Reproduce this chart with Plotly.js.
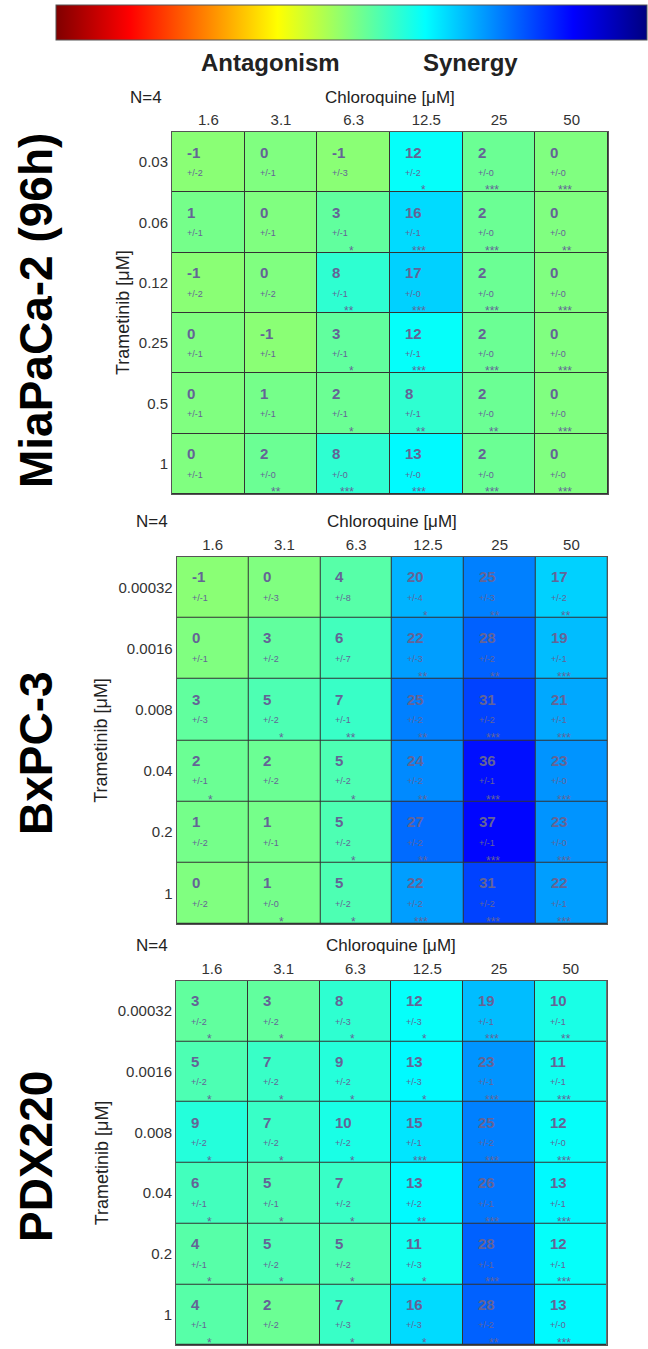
<!DOCTYPE html>
<html>
<head>
<meta charset="utf-8">
<script src="https://cdn.plot.ly/plotly-3.0.1.min.js"></script>
<style>html,body{margin:0;padding:0;background:#fff;}#chart{width:648px;height:1349px;}</style>
</head>
<body>
<div id="chart"></div>
<script>
// ---------- DATA ----------
const chloroLabels = ['1.6', '3.1', '6.3', '12.5', '25', '50'];

const miaLabel = 'MiaPaCa-2 (96h)';
const miaRows = ['0.03', '0.06', '0.12', '0.25', '0.5', '1'];
const miaZ = [
  [-1, 0, -1, 12, 2, 0],
  [1, 0, 3, 16, 2, 0],
  [-1, 0, 8, 17, 2, 0],
  [0, -1, 3, 12, 2, 0],
  [0, 1, 2, 8, 2, 0],
  [0, 2, 8, 13, 2, 0]
];
const miaErr = [
  [2, 1, 3, 2, 0, 0],
  [1, 1, 1, 1, 0, 0],
  [2, 2, 1, 0, 0, 0],
  [1, 1, 1, 1, 0, 0],
  [1, 1, 1, 1, 0, 0],
  [1, 0, 0, 0, 0, 0]
];
const miaSig = [
  ['', '', '', '*', '***', '***'],
  ['', '', '*', '***', '***', '**'],
  ['', '', '**', '***', '***', '***'],
  ['', '', '*', '***', '***', '***'],
  ['', '', '*', '**', '**', '***'],
  ['', '**', '***', '***', '***', '***']
];

const bxLabel = 'BxPC-3';
const bxRows = ['0.00032', '0.0016', '0.008', '0.04', '0.2', '1'];
const bxZ = [
  [-1, 0, 4, 20, 25, 17],
  [0, 3, 6, 22, 28, 19],
  [3, 5, 7, 25, 31, 21],
  [2, 2, 5, 24, 36, 23],
  [1, 1, 5, 27, 37, 23],
  [0, 1, 5, 22, 31, 22]
];
const bxErr = [
  [1, 3, 8, 4, 3, 2],
  [1, 2, 7, 3, 2, 1],
  [3, 2, 1, 2, 2, 1],
  [1, 2, 2, 2, 1, 0],
  [2, 1, 2, 2, 1, 0],
  [2, 0, 2, 2, 2, 1]
];
const bxSig = [
  ['', '', '', '*', '**', '**'],
  ['', '', '', '**', '**', '***'],
  ['', '*', '**', '**', '***', '***'],
  ['*', '', '*', '**', '***', '***'],
  ['', '', '*', '**', '***', '***'],
  ['', '*', '*', '***', '***', '***']
];

const pdxLabel = 'PDX220';
const pdxRows = ['0.00032', '0.0016', '0.008', '0.04', '0.2', '1'];
const pdxZ = [
  [3, 3, 8, 12, 19, 10],
  [5, 7, 9, 13, 23, 11],
  [9, 7, 10, 15, 25, 12],
  [6, 5, 7, 13, 26, 13],
  [4, 5, 5, 11, 28, 12],
  [4, 2, 7, 16, 28, 13]
];
const pdxErr = [
  [2, 2, 3, 3, 1, 1],
  [2, 2, 2, 3, 1, 1],
  [2, 2, 2, 1, 2, 0],
  [1, 1, 2, 2, 1, 1],
  [1, 2, 2, 3, 1, 1],
  [1, 2, 3, 3, 2, 0]
];
const pdxSig = [
  ['*', '*', '*', '*', '***', '**'],
  ['*', '*', '*', '*', '***', '***'],
  ['*', '*', '*', '***', '***', '***'],
  ['*', '*', '*', '**', '***', '***'],
  ['*', '*', '*', '*', '***', '***'],
  ['*', '', '*', '*', '**', '***']
];

const nLabel = 'N=4';
const xTitle = 'Chloroquine [\u03bcM]';
const yTitle = 'Trametinib [\u03bcM]';
const scaleLeft = 'Antagonism';
const scaleRight = 'Synergy';

// ---------- STYLE / LAYOUT ----------
const W = 648, H = 1349;
const FONT = 'Liberation Sans, Arial, Helvetica, sans-serif';
const jetRev = [
  [0, 'rgb(128,0,0)'], [0.125, 'rgb(255,0,0)'], [0.375, 'rgb(255,255,0)'],
  [0.625, 'rgb(0,255,255)'], [0.875, 'rgb(0,0,255)'], [1, 'rgb(0,0,128)']
];
const TEXTCOL = 'rgb(100,100,150)';

const panels = [
  {label: miaLabel, rows: miaRows, z: miaZ, err: miaErr, sig: miaSig,
   x0: 172, x1: 608, y0: 132, y1: 494, nx: 146, ty: 97, ly: 123, bigY: 311},
  {label: bxLabel, rows: bxRows, z: bxZ, err: bxErr, sig: bxSig,
   x0: 176.7, x1: 607.3, y0: 556.7, y1: 924, nx: 152, ty: 522, ly: 101.5, bigY: 753},
  {label: pdxLabel, rows: pdxRows, z: pdxZ, err: pdxErr, sig: pdxSig,
   x0: 176, x1: 606.7, y0: 980.7, y1: 1345, nx: 152, ty: 945, ly: 101.5, bigY: 1157}
];

const traces = [];
const layout = {
  width: W, height: H,
  margin: {l: 0, r: 0, t: 0, b: 0, pad: 0},
  paper_bgcolor: '#ffffff',
  plot_bgcolor: '#333333',
  showlegend: false,
  annotations: [],
  font: {family: FONT, color: '#333'}
};

panels.forEach((p, k) => {
  const n = k === 0 ? '' : String(k + 1);
  const xa = 'x' + n, ya = 'y' + n;
  const tr = {
    type: 'heatmap', x: chloroLabels, y: p.rows, z: p.z,
    zmin: -50, zmax: 50, colorscale: jetRev, xgap: 1, ygap: 1,
    xaxis: xa, yaxis: ya, hoverinfo: 'skip', showscale: k === 0
  };
  if (k === 0) {
    tr.colorbar = {
      orientation: 'h', x: (56 + 647) / 2 / W, xanchor: 'center',
      y: 1 - 5 / H, yanchor: 'top', len: 591, lenmode: 'pixels',
      thickness: 35, thicknessmode: 'pixels', outlinewidth: 1, outlinecolor: '#555',
      showticklabels: false, ticks: '', xpad: 0, ypad: 0, borderwidth: 0
    };
  }
  traces.push(tr);

  layout['xaxis' + n] = {
    domain: [p.x0 / W, p.x1 / W], anchor: ya, side: 'top', type: 'category',
    range: [-0.5, chloroLabels.length - 0.5], autorange: false,
    ticks: '', showgrid: false, zeroline: false, showline: true, mirror: true,
    linecolor: '#555', linewidth: 1, tickfont: {family: FONT, size: 15, color: '#333'},
    fixedrange: true, automargin: false
  };
  layout['yaxis' + n] = {
    domain: [1 - p.y1 / H, 1 - p.y0 / H], anchor: xa, type: 'category',
    range: [p.rows.length - 0.5, -0.5], autorange: false,
    ticks: '', showgrid: false, zeroline: false, showline: true,
    mirror: true, linecolor: '#555', linewidth: 1,
    tickfont: {family: FONT, size: 15, color: '#333'}, fixedrange: true, automargin: false
  };

  const cw = (p.x1 - p.x0) / 6, ch = (p.y1 - p.y0) / 6;
  p.z.forEach((row, i) => {
    row.forEach((v, j) => {
      layout.annotations.push({
        xref: xa, yref: ya, x: j, y: i, text: '<b>' + v + '</b>', showarrow: false,
        xanchor: 'left', yanchor: 'middle', xshift: -cw / 2 + 14, yshift: ch / 2 - 20,
        borderpad: 0, font: {family: FONT, size: 15, color: TEXTCOL}
      });
      layout.annotations.push({
        xref: xa, yref: ya, x: j, y: i, text: '+/-' + p.err[i][j], showarrow: false,
        xanchor: 'left', yanchor: 'middle', xshift: -cw / 2 + 14, yshift: ch / 2 - 41,
        borderpad: 0, font: {family: FONT, size: 9, color: TEXTCOL}
      });
      if (p.sig[i][j]) {
        layout.annotations.push({
          xref: xa, yref: ya, x: j, y: i, text: p.sig[i][j], showarrow: false,
          xanchor: 'right', yanchor: 'middle', xshift: 1, yshift: -ch / 2 + 2,
          borderpad: 0, font: {family: FONT, size: 12, color: TEXTCOL}
        });
      }
    });
  });

  // panel texts
  layout.annotations.push({
    xref: 'paper', yref: 'paper', x: p.nx / W, y: 1 - p.ty / H, text: nLabel,
    showarrow: false, xanchor: 'center', yanchor: 'middle',
    font: {family: FONT, size: 17, color: '#222'}
  });
  layout.annotations.push({
    xref: 'paper', yref: 'paper', x: (p.x0 + p.x1) / 2 / W, y: 1 - p.ty / H, text: xTitle,
    showarrow: false, xanchor: 'center', yanchor: 'middle',
    font: {family: FONT, size: 17, color: '#222'}
  });
  layout.annotations.push({
    xref: 'paper', yref: 'paper', x: p.ly / W, y: 1 - (p.y0 + p.y1) / 2 / H, text: yTitle,
    showarrow: false, xanchor: 'center', yanchor: 'middle', textangle: -90,
    font: {family: FONT, size: 18, color: '#222'}
  });
  layout.annotations.push({
    xref: 'paper', yref: 'paper', x: 36 / W, y: 1 - p.bigY / H, text: '<b>' + p.label + '</b>',
    showarrow: false, xanchor: 'center', yanchor: 'middle', textangle: -90,
    font: {family: FONT, size: 46, color: '#000'}
  });
});

layout.annotations.push({
  xref: 'paper', yref: 'paper', x: 270 / W, y: 1 - 62 / H, text: '<b>' + scaleLeft + '</b>',
  showarrow: false, xanchor: 'center', yanchor: 'middle', font: {family: FONT, size: 24, color: '#222'}
});
layout.annotations.push({
  xref: 'paper', yref: 'paper', x: 470 / W, y: 1 - 62 / H, text: '<b>' + scaleRight + '</b>',
  showarrow: false, xanchor: 'center', yanchor: 'middle', font: {family: FONT, size: 24, color: '#222'}
});

Plotly.newPlot('chart', traces, layout, {displayModeBar: false, staticPlot: true});
</script>
</body>
</html>
